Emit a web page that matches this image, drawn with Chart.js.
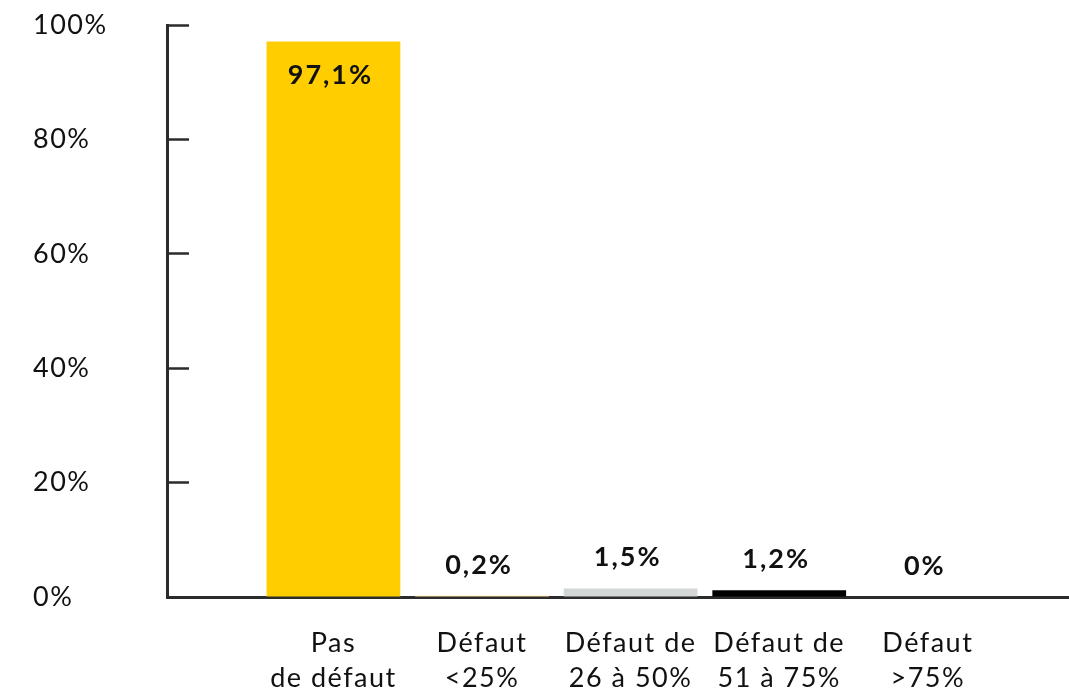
<!DOCTYPE html>
<html lang="fr">
<head>
<meta charset="utf-8">
<title>Défaut</title>
<script src="https://cdn.jsdelivr.net/npm/chart.js@4/dist/chart.umd.min.js"></script>
<style>
    html, body { margin: 0; padding: 0; background: #fff; }
    #wrap { width: 1069px; height: 692px; position: relative; }
</style>
</head>
<body>
<div id="wrap"><canvas id="chart"></canvas></div>
<script>
const categories = [
    ['Pas', 'de défaut'],
    ['Défaut', '<25%'],
    ['Défaut de', '26 à 50%'],
    ['Défaut de', '51 à 75%'],
    ['Défaut', '>75%']
];
const values = [97.1, 0.2, 1.5, 1.2, 0];
const barColors = ['#FFCD00', '#FFE184', '#D4D7D7', '#000000', '#000000'];
const yTicks = [0, 20, 40, 60, 80, 100];

const axisColor = '#2b2b2b';
const textColor = '#111111';
const fontFamily = "Lato, 'Open Sans', sans-serif";

// la police de référence est plus large : on espace un peu les lettres
const spacing = {
    id: 'spacing',
    beforeDraw(chart) {
        chart.ctx.letterSpacing = '1.5px';
    }
};

// étiquettes de valeur : dans la barre si elle est haute, au-dessus sinon
const valueLabels = {
    id: 'valueLabels',
    afterDatasetsDraw(chart) {
        const ctx = chart.ctx;
        const meta = chart.getDatasetMeta(0);
        ctx.save();
        ctx.letterSpacing = '2px';
        ctx.font = `bold 27px ${fontFamily}`;
        ctx.fillStyle = textColor;
        ctx.textAlign = 'center';
        ctx.textBaseline = 'middle';
        meta.data.forEach((bar, i) => {
            const v = values[i];
            const txt = String(v).replace('.', ',') + '%';
            const y = v > 50 ? bar.y + 34 : bar.y - 31;
            ctx.fillText(txt, bar.x - 3, y);
        });
        ctx.restore();
    }
};

new Chart(document.getElementById('chart'), {
    type: 'bar',
    data: {
        datasets: [{
            data: values.map((v, i) => ({ x: i + 1, y: v })),
            backgroundColor: barColors,
            borderWidth: 0,
            categoryPercentage: 0.9,
            barPercentage: 1
        }]
    },
    options: {
        responsive: true,
        maintainAspectRatio: false,
        animation: false,
        layout: { padding: { left: 33, top: 25, right: 0, bottom: 0 } },
        plugins: {
            legend: { display: false },
            tooltip: { enabled: false }
        },
        scales: {
            x: {
                type: 'linear',
                offset: false,
                bounds: 'data',
                min: -0.12,
                max: 5.95,
                afterBuildTicks: s => { s.ticks = categories.map((c, i) => ({ value: i + 1 })); },
                afterFit: s => { s.height = 95; },
                grid: { display: true, offset: false, drawOnChartArea: false, drawTicks: false },
                border: { display: true, color: axisColor, width: 3 },
                ticks: {
                    autoSkip: false,
                    maxRotation: 0,
                    padding: 28,
                    color: textColor,
                    font: { family: fontFamily, size: 27, lineHeight: 1.32 },
                    callback: v => categories[v - 1] || ''
                }
            },
            y: {
                min: 0,
                max: 100,
                afterBuildTicks: s => { s.ticks = yTicks.map(v => ({ value: v })); },
                afterFit: s => { s.width = 134; },
                grid: {
                    drawOnChartArea: false,
                    drawTicks: true,
                    tickLength: -22,
                    tickWidth: 2.5,
                    tickColor: axisColor
                },
                border: { display: true, color: axisColor, width: 3 },
                ticks: {
                    crossAlign: 'far',
                    color: textColor,
                    font: { family: fontFamily, size: 27 },
                    callback: v => v + '%'
                }
            }
        }
    },
    plugins: [spacing, valueLabels]
});
</script>
</body>
</html>
